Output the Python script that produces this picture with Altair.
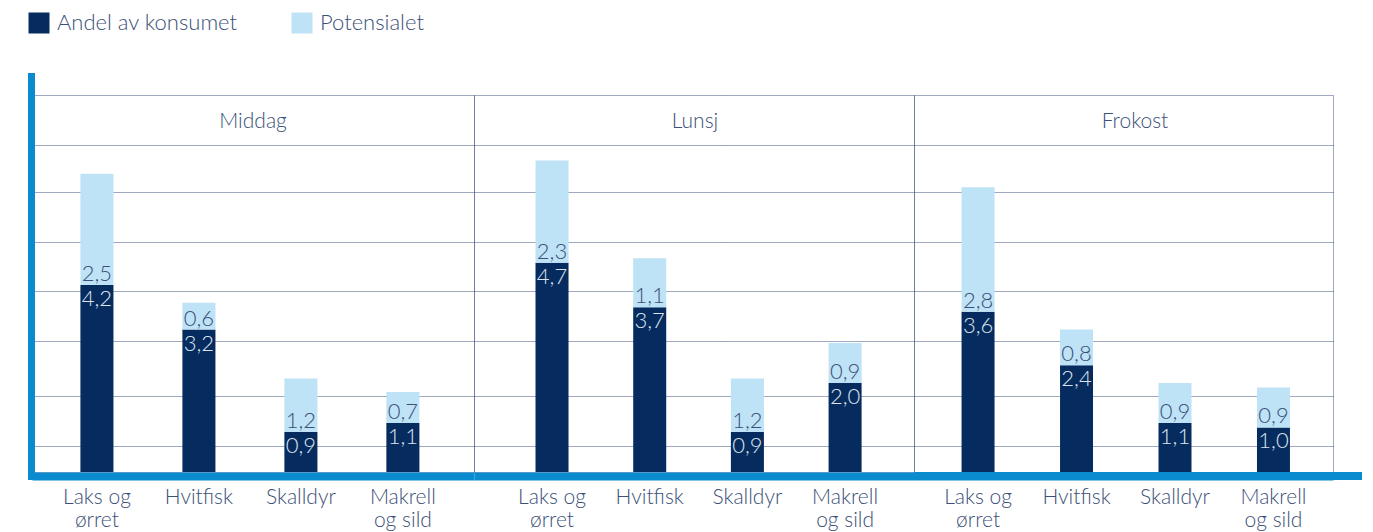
import altair as alt
import pandas as pd

# Fish consumption by meal: current share and remaining potential
meals = ["Middag", "Lunsj", "Frokost"]
fish = ["Laks og\nørret", "Hvitfisk", "Skalldyr", "Makrell\nog sild"]
series = ["Andel av konsumet", "Potensialet"]

andel = {
    "Middag": [4.2, 3.2, 0.9, 1.1],
    "Lunsj": [4.7, 3.7, 0.9, 2.0],
    "Frokost": [3.6, 2.4, 1.1, 1.0],
}
potensial = {
    "Middag": [2.5, 0.6, 1.2, 0.7],
    "Lunsj": [2.3, 1.1, 1.2, 0.9],
    "Frokost": [2.8, 0.8, 0.9, 0.9],
}

# Horizontal guide levels and the top of the value axis
grid_levels = [0.585, 1.70, 2.94, 4.07, 5.16, 6.29, 7.34]
y_max = 8.47

DARK = "#062c5f"
LIGHT = "#bee2f6"
BLUE = "#0a8bd0"
TEXT = "#3b5077"
GRID = "#3f5580"
ON_DARK = "#dce4ee"
FONT = "Lato"
WEIGHT = 300

PLOT_H = 377
panel_widths = [442, 440, 419]
# band layout per panel: (paddingInner, paddingOuter, align)
band_layout = [(0.676, 0.505, 0.47), (0.662, 0.583, 0.54), (0.665, 0.46, 0.525)]


def fmt(v):
    return f"{v:.1f}".replace(".", ",")


long_rows, wide_rows = [], []
for m in meals:
    for f, a, p in zip(fish, andel[m], potensial[m]):
        long_rows.append({"meal": m, "fish": f, "series": series[0], "rank": 0, "value": a})
        long_rows.append({"meal": m, "fish": f, "series": series[1], "rank": 1, "value": p})
        wide_rows.append({"meal": m, "fish": f, "andel": a, "pot": p,
                          "andel_txt": fmt(a), "pot_txt": fmt(p)})
long_df = pd.DataFrame(long_rows)
wide_df = pd.DataFrame(wide_rows)

y_scale = alt.Scale(domain=[0, y_max], nice=False, zero=True)
y_axis = alt.Axis(values=grid_levels, labels=False, ticks=False, domain=False,
                  title=None, grid=True, minExtent=0, maxExtent=0)
legend = alt.Legend(orient="none", legendX=-4, legendY=-83, direction="horizontal",
                    title=None, symbolType="square", symbolSize=441,
                    symbolStrokeWidth=0, labelFont=FONT, labelFontWeight=WEIGHT,
                    labelFontSize=22, labelLimit=400, labelColor=TEXT,
                    labelOffset=7, columnPadding=53, padding=0)
color = alt.Color("series:N", scale=alt.Scale(domain=series, range=[DARK, LIGHT]),
                  legend=legend)


def panel(i, meal):
    w = panel_widths[i]
    pi, po, al = band_layout[i]
    x_axis = alt.Axis(title=None, labelExpr="split(datum.label, '\\n')", ticks=False,
                      tickSize=0, labelAngle=0, labelFont=FONT, labelFontWeight=WEIGHT,
                      labelFontSize=21, labelColor=TEXT, labelPadding=10,
                      labelLineHeight=23, domainColor=BLUE, domainWidth=8,
                      offset=4, grid=False)
    x = alt.X("fish:N", sort=fish,
              scale=alt.Scale(paddingInner=pi, paddingOuter=po, align=al),
              axis=x_axis)

    bars = alt.Chart(long_df[long_df.meal == meal]).mark_bar().encode(
        x=x,
        y=alt.Y("value:Q", stack="zero", scale=y_scale, axis=y_axis),
        color=color,
        order=alt.Order("rank:Q"),
    )

    wd = wide_df[wide_df.meal == meal]
    pot_lbl = alt.Chart(wd).mark_text(font=FONT, fontWeight=WEIGHT, fontSize=22,
                                      color=TEXT, baseline="alphabetic", dy=-4).encode(
        x=x, y=alt.Y("andel:Q", scale=y_scale, axis=y_axis), text="pot_txt:N")
    andel_lbl = alt.Chart(wd).mark_text(font=FONT, fontWeight=WEIGHT, fontSize=22,
                                        color=ON_DARK, baseline="alphabetic", dy=21).encode(
        x=x, y=alt.Y("andel:Q", scale=y_scale, axis=y_axis), text="andel_txt:N")

    header = alt.Chart(pd.DataFrame({"meal": [meal]})).mark_text(
        font=FONT, fontWeight=WEIGHT, fontSize=21, color=TEXT,
        baseline="alphabetic", align="center"
    ).encode(x=alt.value(221), y=alt.value(33), text="meal:N")

    layers = [bars, pot_lbl, andel_lbl, header]
    one = pd.DataFrame({"k": [0]})
    if i == 0:
        layers.append(alt.Chart(one).mark_rule(color=BLUE, strokeWidth=7).encode(
            x=alt.value(-0.5), y=alt.value(-22), y2=alt.value(PLOT_H + 8)))
    if i == len(meals) - 1:
        layers.append(alt.Chart(one).mark_rule(color=BLUE, strokeWidth=8).encode(
            x=alt.value(0), x2=alt.value(w + 29), y=alt.value(PLOT_H + 4)))
    return alt.layer(*layers).properties(width=w, height=PLOT_H)


chart = alt.hconcat(*[panel(i, m) for i, m in enumerate(meals)],
                    spacing=0, bounds="flush").properties(
    padding={"left": 27, "top": 12, "right": 5, "bottom": 5}
).configure_view(
    stroke=GRID, strokeDash=[1, 1], strokeWidth=1
).configure_axis(
    gridColor=GRID, gridDash=[1, 1], gridWidth=1
)

chart.save("out.html", embed_options={"renderer": "svg", "actions": False})
